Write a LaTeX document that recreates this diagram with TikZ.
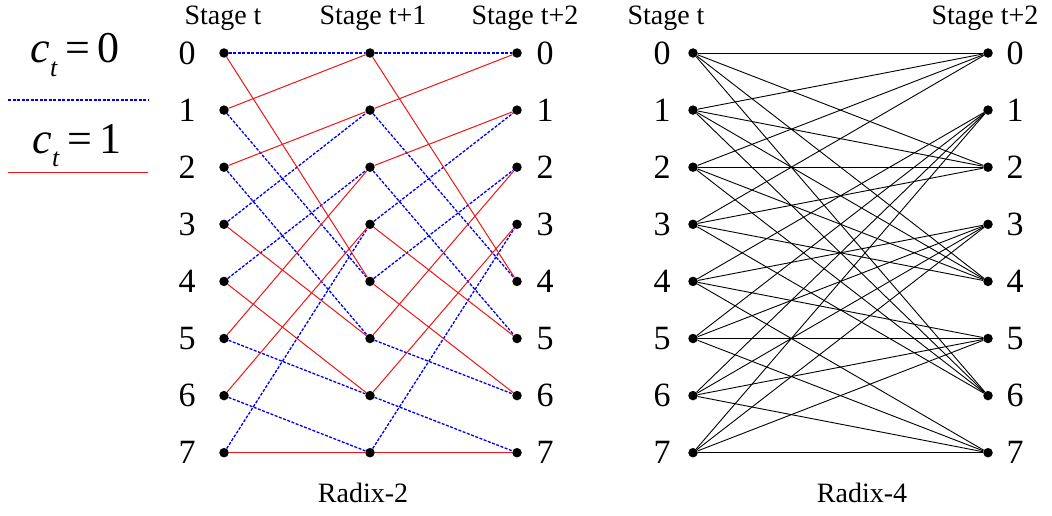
\documentclass[tikz,border=0pt]{standalone}
\usepackage{fontspec}
\setmainfont{Liberation Serif}
\usepackage{tikz}
\usetikzlibrary{positioning, calc}

\definecolor{zeroblue}{RGB}{0, 0, 240}
\definecolor{onered}{RGB}{240, 20, 20}

\begin{document}
\begin{tikzpicture}[x=1pt, y=-1pt,
  state/.style={circle, fill=black, inner sep=0pt, minimum size=9.5pt},
  num/.style={font=\fontsize{34}{36}\selectfont, inner sep=0pt},
  head/.style={font=\fontsize{28}{30}\selectfont, inner sep=0pt},
  legend/.style={font=\fontsize{44}{46}\selectfont, inner sep=0pt},
  zero/.style={zeroblue, dash pattern=on 3pt off 1.5pt, line width=1.3pt},
  one/.style={onered, line width=1pt},
  tran/.style={black, line width=0.9pt}
]
  \useasboundingbox (0,0) rectangle (1052,516);

  % legend
  \node[legend] (czero) at (75,55) {\textit{c}\raisebox{-0.3em}{\fontsize{26}{26}\selectfont\textit{t}}\,=\,0};
  \coordinate (zl) at (8,100.5);
  \coordinate (zr) at (148,100.5);
  \draw[zero, line width=2pt] (zl) -- (zr);
  \node[legend] (cone) at (77,146) {\textit{c}\raisebox{-0.3em}{\fontsize{26}{26}\selectfont\textit{t}}\,=\,1};
  \coordinate (ol) at (8,172.5);
  \coordinate (or) at (148,172.5);
  \draw[one, line width=1.5pt] (ol) -- (or);

  % headers
  \node[head] (hL) at (223,18) {Stage t};
  \node[head] (hM) at (373,18) {Stage t+1};
  \node[head] (hR) at (525,18) {Stage t+2};
  \node[head] (hP) at (666,18) {Stage t};
  \node[head] (hQ) at (985,18) {Stage t+2};

  % states
  \foreach \i in {0,...,7} {
    \pgfmathsetmacro{\yy}{53+57.1*\i}
    \node[state] (L\i) at (224,\yy) {};
    \node[state] (M\i) at (370,\yy) {};
    \node[state] (R\i) at (517,\yy) {};
    \node[state] (P\i) at (693,\yy) {};
    \node[state] (Q\i) at (988,\yy) {};
    \node[num] (nL\i) at (187,\yy) {\i};
    \node[num] (nR\i) at (545,\yy) {\i};
    \node[num] (nP\i) at (662,\yy) {\i};
    \node[num] (nQ\i) at (1015,\yy) {\i};
  }

  % radix-2 trellis
  \foreach \s/\d in {0/0,1/4,2/5,3/1,4/2,5/6,6/7,7/3} {
    \draw[zero] (L\s) -- (M\d);
    \draw[zero] (M\s) -- (R\d);
  }
  \foreach \s/\d in {0/4,1/0,2/1,3/5,4/6,5/2,6/3,7/7} {
    \draw[one] (L\s) -- (M\d);
    \draw[one] (M\s) -- (R\d);
  }

  % radix-4 trellis
  \foreach \s in {0,...,3}
    \foreach \d in {0,2,4,6}
      \draw[tran] (P\s) -- (Q\d);
  \foreach \s in {4,...,7}
    \foreach \d in {1,3,5,7}
      \draw[tran] (P\s) -- (Q\d);

  \node[head] (r2) at (363,493) {Radix-2};
  \node[head] (r4) at (862,493) {Radix-4};
\end{tikzpicture}
\end{document}
